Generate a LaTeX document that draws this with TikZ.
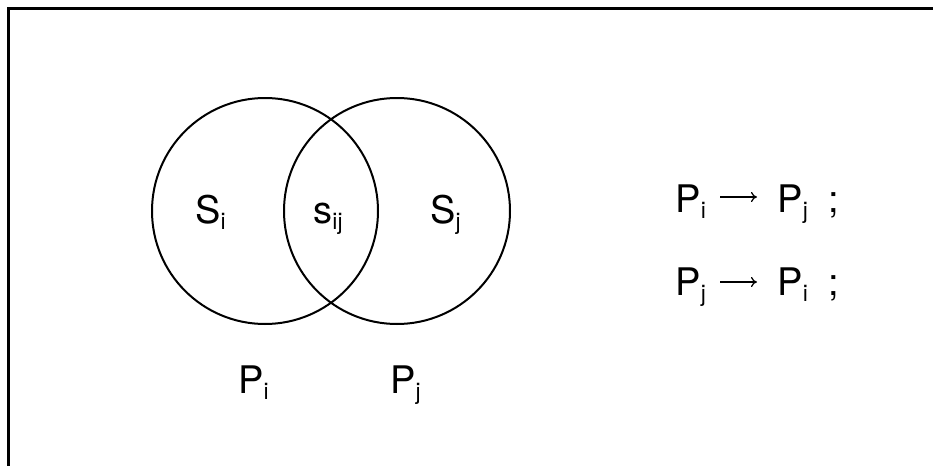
\documentclass[tikz,border=0pt]{standalone}
\usepackage{fontspec}
\setmainfont{TeX Gyre Heros}
\usetikzlibrary{arrows.meta}
\newcommand\sbs[1]{\raisebox{-0.16em}{\fontsize{11.5}{12}\selectfont #1}}
\begin{document}
\begin{tikzpicture}[x=0.5pt,y=-0.5pt,
  lbl/.style={inner sep=0pt, anchor=base west, font=\fontsize{19}{20}\selectfont},
  setc/.style={draw, circle, line width=1pt, minimum size=113pt, inner sep=0pt},
  arr/.style={line width=0.6pt, -{To[length=3pt,width=5pt]}}]
\useasboundingbox (0,0) rectangle (933,466);
\draw[line width=1.5pt] (8.5,466) -- (8.5,8.5) -- (933,8.5);
\node[setc] (ci) at (265,211) {};
\node[setc] (cj) at (397,211) {};
\node[lbl] (si) at (195,223) {S\sbs{i}};
\node[lbl] (sij) at (313,223) {s\sbs{ij}};
\node[lbl] (sj) at (430,223) {S\sbs{j}};
\node[lbl] (pi) at (238,393) {P\sbs{i}};
\node[lbl] (pj) at (390,393) {P\sbs{j}};
% line 1
\node[lbl] (l1a) at (675,212) {P\sbs{i}};
\node[lbl] (l1b) at (777,212) {P\sbs{j}};
\node[lbl] (l1c) at (828,212) {;};
\coordinate (a1s) at (720,197);
\coordinate (a1e) at (757,197);
\draw[arr] (a1s) -- (a1e);
% line 2
\node[lbl] (l2a) at (675,295) {P\sbs{j}};
\node[lbl] (l2b) at (777,295) {P\sbs{i}};
\node[lbl] (l2c) at (828,295) {;};
\coordinate (a2s) at (720,282);
\coordinate (a2e) at (757,282);
\draw[arr] (a2s) -- (a2e);
\end{tikzpicture}
\end{document}
